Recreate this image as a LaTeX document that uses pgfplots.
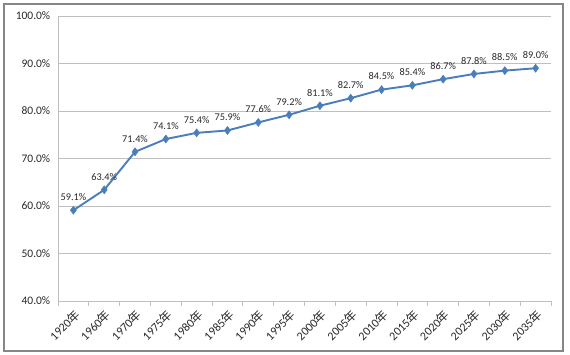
\documentclass[border=0pt]{standalone}
\usepackage{fontspec}
\setmainfont{Carlito}
\newfontfamily\cjk{Noto Sans CJK SC}
\usepackage{pgfplots}
\pgfplotsset{compat=1.18}
\definecolor{lineblue}{RGB}{74,126,187}
\definecolor{gridgray}{RGB}{191,191,191}
\definecolor{framegray}{RGB}{134,134,134}
\definecolor{txt}{RGB}{40,40,40}
\begin{document}
\begin{tikzpicture}
\useasboundingbox (0pt,0pt) rectangle (570pt,355pt);
\draw[framegray, line width=1.2pt] (4pt,4pt) rectangle (563pt,351pt);
\begin{axis}[
  at={(58pt,54pt)}, anchor=south west,
  scale only axis, width=493pt, height=285pt,
  xmin=-0.5, xmax=15.5, ymin=40, ymax=100,
  axis x line*=bottom, axis y line*=left,
  axis line style={gridgray, line width=0.8pt},
  ytick={40,50,...,100},
  yticklabels={40.0\%,50.0\%,60.0\%,70.0\%,80.0\%,90.0\%,100.0\%},
  ymajorgrids, grid style={gridgray, line width=0.8pt},
  major y tick style={draw=none},
  xtick={0,...,15},
  xticklabels={1920{\cjk 年},1960{\cjk 年},1970{\cjk 年},1975{\cjk 年},1980{\cjk 年},1985{\cjk 年},1990{\cjk 年},1995{\cjk 年},2000{\cjk 年},2005{\cjk 年},2010{\cjk 年},2015{\cjk 年},2020{\cjk 年},2025{\cjk 年},2030{\cjk 年},2035{\cjk 年}},
  major x tick style={draw=none},
  minor xtick={-0.5,0.5,...,15.5},
  minor x tick style={gridgray, line width=0.8pt},
  minor tick length=5pt,
  tick align=outside,
  xticklabel style={rotate=45, anchor=north east, font=\fontsize{12}{13}\selectfont, text=txt, inner sep=2pt},
  yticklabel style={font=\fontsize{11.5}{13}\selectfont, text=txt},
  nodes near coords={\pgfmathprintnumber[fixed,fixed zerofill,precision=1,assume math mode=true]{\pgfplotspointmeta}\%},
  every node near coord/.append style={font=\fontsize{10.3}{12}\selectfont, text=txt, yshift=6pt},
  clip=false,
]
\addplot[lineblue, line width=1.9pt, mark=diamond*, mark size=4pt, mark options={fill=lineblue, draw=lineblue, line width=0.5pt}]
coordinates {(0,59.1)(1,63.4)(2,71.4)(3,74.1)(4,75.4)(5,75.9)(6,77.6)(7,79.2)(8,81.1)(9,82.7)(10,84.5)(11,85.4)(12,86.7)(13,87.8)(14,88.5)(15,89.0)};
\end{axis}
\end{tikzpicture}
\end{document}
